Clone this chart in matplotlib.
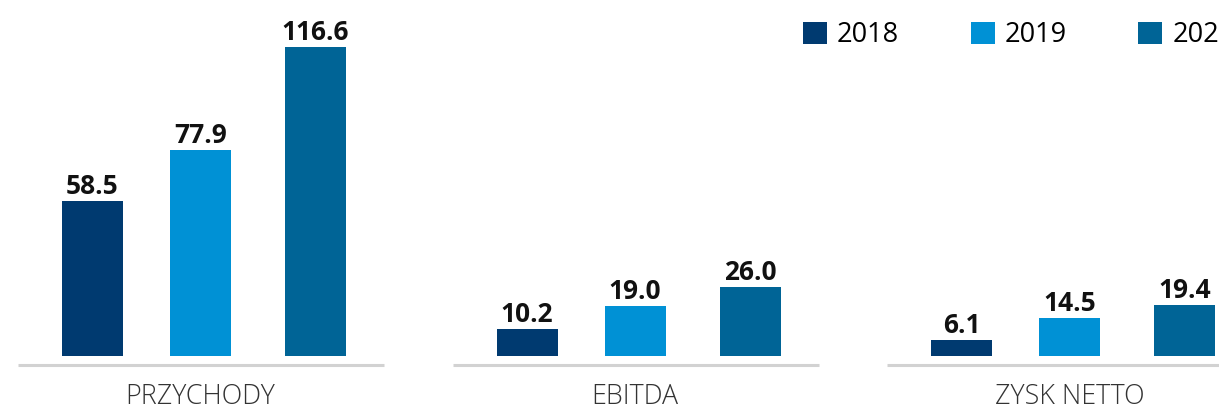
import matplotlib
matplotlib.use("Agg")
import matplotlib.pyplot as plt
from matplotlib.patches import Patch

# data
categories = ["PRZYCHODY", "EBITDA", "ZYSK NETTO"]
years = ["2018", "2019", "2020"]
values = {
    "2018": [58.5, 10.2, 6.1],
    "2019": [77.9, 19.0, 14.5],
    "2020": [116.6, 26.0, 19.4],
}
colors = ["#003a70", "#0091d5", "#006496"]

plt.rcParams["font.family"] = ["Open Sans", "DejaVu Sans"]

W, H = 1219, 413
fig = plt.figure(figsize=(W / 100, H / 100), dpi=100)
ax = fig.add_axes([0, 0, 1, 1])

# layout in pixels along x, value units along y
px_per_unit = 2.65
bottom_px = 57
ax.set_xlim(0, W)
ax.set_ylim(-bottom_px / px_per_unit, (H - bottom_px) / px_per_unit)
ax.axis("off")

group_start = 92.5
group_gap = 434.5
bar_offsets = [0, 108, 223]
bar_w = 61

for i, yr in enumerate(years):
    xs = [group_start + g * group_gap + bar_offsets[i] for g in range(len(categories))]
    bars = ax.bar(xs, values[yr], width=bar_w, color=colors[i], label=yr)
    for b, v in zip(bars, values[yr]):
        ax.text(b.get_x() + b.get_width() / 2, v + 0.3, f"{v:.1f}",
                ha="center", va="bottom", fontsize=19, fontweight="bold",
                color="#111111")

# baselines and category labels
base_y = (48 - bottom_px) / px_per_unit
label_y = (16 - bottom_px) / px_per_unit
for g, cat in enumerate(categories):
    x0 = 18 + g * group_gap
    ax.hlines(base_y, x0, x0 + 366, color="#d2d2d2", lw=2.2)
    ax.text(group_start + g * group_gap + bar_offsets[1], label_y, cat,
            ha="center", va="center", fontsize=19.3, fontweight="light",
            color="#333333")

handles = [Patch(facecolor=c, edgecolor="none") for c in colors]
ax.legend(handles, years, loc="center left",
          bbox_to_anchor=(803 / W, 1 - 35.5 / H), ncol=3, frameon=False,
          fontsize=19.5, handlelength=0.885, handleheight=0.885,
          handletextpad=0.37, columnspacing=2.64, borderpad=0,
          borderaxespad=0)

fig.savefig("out.png", dpi=100)
